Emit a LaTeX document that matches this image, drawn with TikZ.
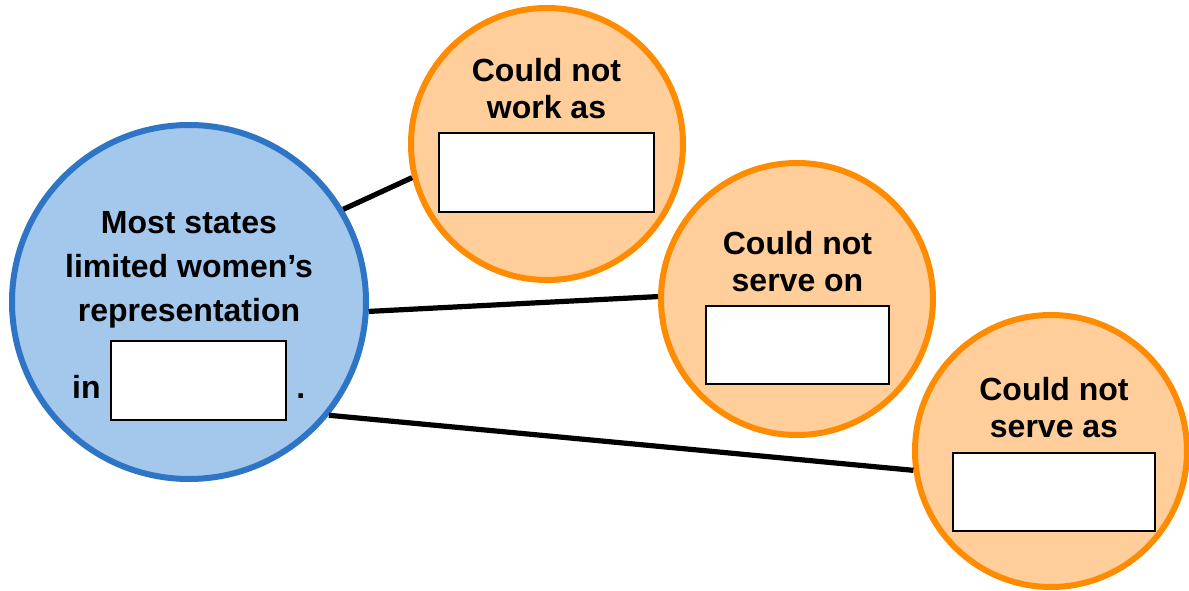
\documentclass[tikz,border=0pt]{standalone}
\usepackage{fontspec}
\setmainfont{Liberation Sans}
\usetikzlibrary{positioning}

\definecolor{hubfill}{RGB}{164,199,236}
\definecolor{hubline}{RGB}{46,117,198}
\definecolor{leaffill}{RGB}{255,206,155}
\definecolor{leafline}{RGB}{255,140,0}

\begin{document}
\begin{tikzpicture}[
            x=1pt, y=1pt,
            hub/.style = {circle, draw=hubline, fill=hubfill, line width=3pt, minimum size=177pt, inner sep=0pt},
            leaf/.style = {circle, draw=leafline, fill=leaffill, line width=3pt, minimum size=136pt, inner sep=0pt},
            blank/.style = {rectangle, draw=black, fill=white, line width=1pt, inner sep=0pt},
            caption/.style = {align=center, inner sep=0pt, font=\bfseries\fontsize{16}{18.5}\selectfont},
            link/.style = {line width=2.6pt, black}
        ]
        \useasboundingbox (0,0) rectangle (594.5,295);

        % circles
        \node[hub] (limits) at (94.5,144) {};
        \node[leaf] (work) at (273.5,223) {};
        \node[leaf] (jury) at (398.5,145.5) {};
        \node[leaf] (office) at (525.5,69.5) {};

        % connectors
        \draw[link] (limits.31) -- (work.194);
        \draw[link] (limits.-3) -- (jury.179);
        \draw[link] (limits.-39) -- (office.-172);

        % blanks to fill in
        \node[blank, minimum width=87.5pt, minimum height=39.5pt] (limitsbox) at ([shift={(4.75,-39.25)}]limits.center) {};
        \node[blank, minimum width=107.5pt, minimum height=39.5pt] (workbox) at ([shift={(-0.25,-14.25)}]work.center) {};
        \node[blank, minimum width=91.5pt, minimum height=39pt] (jurybox) at ([shift={(0.25,-23)}]jury.center) {};
        \node[blank, minimum width=101pt, minimum height=39pt] (officebox) at ([shift={(1.5,-20.5)}]office.center) {};

        % texts
        \node[caption, font=\bfseries\fontsize{16}{22}\selectfont, above=5.5pt of limitsbox, xshift=-4.75pt] (limitstext) {Most states\\limited women’s\\representation};
        \node[caption, anchor=base east] (limitsin) at ([shift={(-4.5,11.5)}]limitsbox.south west) {in};
        \node[caption, anchor=base west] (limitsdot) at ([shift={(4.5,11.5)}]limitsbox.south east) {.};
        \node[caption, above=6.5pt of workbox] (worktext) {Could not\\work as};
        \node[caption, above=6.5pt of jurybox] (jurytext) {Could not\\serve on};
        \node[caption, above=7pt of officebox] (officetext) {Could not\\serve as};
    \end{tikzpicture}
\end{document}
